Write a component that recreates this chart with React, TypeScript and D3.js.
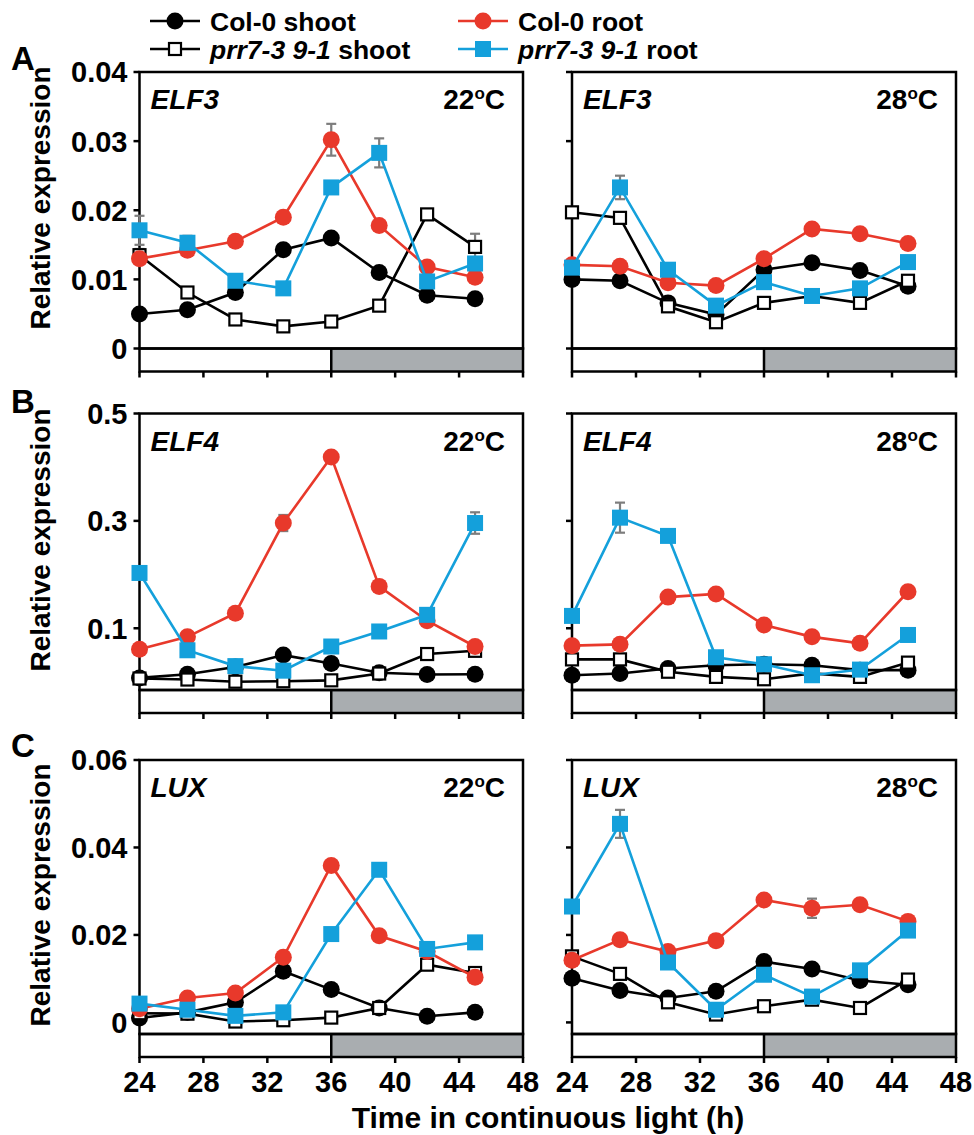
import React from "react"
import * as d3 from "d3"

// time points (h in continuous light)
const hours = [24, 27, 30, 33, 36, 39, 42, 45]
const xTicks = [24, 28, 32, 36, 40, 44, 48]

// ELF3
const elf3_22_colShoot = [0.0050, 0.0056, 0.0081, 0.0143, 0.0160, 0.0110, 0.0077, 0.0072]
const elf3_22_prrShoot = [0.0135, 0.0081, 0.0042, 0.0032, 0.0039, 0.0062, 0.0194, 0.0147]
const elf3_22_colRoot = [0.0130, 0.0142, 0.0155, 0.0190, 0.0302, 0.0178, 0.0118, 0.0103]
const elf3_22_prrRoot = [0.0171, 0.0153, 0.0098, 0.0087, 0.0233, 0.0283, 0.0097, 0.0123]
const elf3_22_err = [
    [0, 0, 0.0007, 0, 0, 0, 0, 0],
    [0.0009, 0, 0, 0, 0, 0, 0, 0.0019],
    [0, 0.0005, 0, 0, 0.0023, 0, 0, 0],
    [0.0021, 0.0010, 0, 0, 0, 0.0021, 0, 0],
]

const elf3_28_colShoot = [0.0100, 0.0098, 0.0066, 0.0049, 0.0114, 0.0124, 0.0113, 0.0090]
const elf3_28_prrShoot = [0.0197, 0.0189, 0.0061, 0.0038, 0.0066, 0.0076, 0.0066, 0.0098]
const elf3_28_colRoot = [0.0121, 0.0119, 0.0095, 0.0091, 0.0130, 0.0173, 0.0166, 0.0152]
const elf3_28_prrRoot = [0.0117, 0.0233, 0.0114, 0.0062, 0.0096, 0.0076, 0.0087, 0.0125]
const elf3_28_err = [
    [0.0008, 0, 0.0008, 0, 0, 0, 0, 0.0006],
    [0, 0, 0.0008, 0, 0, 0, 0, 0],
    [0.0006, 0, 0, 0, 0, 0, 0, 0.0005],
    [0, 0.0017, 0, 0, 0, 0, 0, 0.0009],
]

// ELF4
const elf4_22_colShoot = [0.0075, 0.0144, 0.028, 0.050, 0.0345, 0.017, 0.014, 0.0144]
const elf4_22_prrShoot = [0.0064, 0.0045, 0.0005, 0.0013, 0.003, 0.0157, 0.052, 0.058]
const elf4_22_colRoot = [0.061, 0.084, 0.128, 0.296, 0.419, 0.178, 0.114, 0.066]
const elf4_22_prrRoot = [0.203, 0.059, 0.0295, 0.021, 0.066, 0.094, 0.125, 0.296]
const elf4_22_err = [
    [0, 0, 0, 0, 0, 0, 0, 0],
    [0, 0, 0, 0, 0, 0, 0, 0],
    [0, 0, 0, 0.015, 0, 0, 0, 0],
    [0, 0, 0, 0, 0, 0, 0, 0.02],
]

const elf4_28_colShoot = [0.0125, 0.0157, 0.025, 0.031, 0.033, 0.031, 0.022, 0.022]
const elf4_28_prrShoot = [0.042, 0.042, 0.019, 0.0094, 0.005, 0.016, 0.0094, 0.036]
const elf4_28_colRoot = [0.0676, 0.070, 0.158, 0.164, 0.106, 0.084, 0.072, 0.168]
const elf4_28_prrRoot = [0.123, 0.306, 0.272, 0.046, 0.033, 0.0125, 0.023, 0.0875]
const elf4_28_err = [
    [0, 0, 0, 0, 0, 0, 0, 0],
    [0, 0, 0, 0, 0, 0, 0, 0],
    [0, 0, 0, 0, 0, 0, 0, 0],
    [0, 0.028, 0.006, 0, 0, 0, 0, 0],
]

// LUX
const lux_22_colShoot = [0.0010, 0.0023, 0.0046, 0.0117, 0.0075, 0.0033, 0.0014, 0.0023]
const lux_22_prrShoot = [0.0021, 0.0020, 0.0002, 0.0005, 0.0011, 0.0033, 0.0132, 0.0113]
const lux_22_colRoot = [0.0031, 0.0056, 0.0067, 0.0149, 0.0359, 0.0198, 0.0162, 0.0103]
const lux_22_prrRoot = [0.0043, 0.0029, 0.0015, 0.0023, 0.0202, 0.0349, 0.0168, 0.0183]
const lux_22_err = [
    [0, 0, 0, 0, 0, 0, 0, 0],
    [0, 0, 0, 0, 0, 0, 0, 0.0007],
    [0, 0, 0, 0, 0.0010, 0, 0, 0],
    [0, 0, 0, 0, 0, 0, 0, 0],
]

const lux_28_colShoot = [0.0101, 0.0073, 0.0056, 0.0071, 0.0139, 0.0122, 0.0096, 0.0086]
const lux_28_prrShoot = [0.0151, 0.0111, 0.0046, 0.0018, 0.0037, 0.0052, 0.0033, 0.0098]
const lux_28_colRoot = [0.0142, 0.0189, 0.0162, 0.0187, 0.0280, 0.0261, 0.0269, 0.0231]
const lux_28_prrRoot = [0.0265, 0.0454, 0.0137, 0.0029, 0.0109, 0.0059, 0.0119, 0.0210]
const lux_28_err = [
    [0, 0, 0, 0, 0, 0, 0, 0],
    [0, 0, 0, 0, 0, 0, 0, 0],
    [0, 0.0006, 0, 0, 0.0008, 0.0022, 0, 0],
    [0, 0.0032, 0, 0, 0, 0, 0, 0.0010],
]

// y axes
const elf3Ticks = [0, 0.01, 0.02, 0.03, 0.04]
const elf3TickLabels = ["0", "0.01", "0.02", "0.03", "0.04"]
const elf4Ticks = [0.1, 0.3, 0.5]
const elf4TickLabels = ["0.1", "0.3", "0.5"]
const luxTicks = [0, 0.02, 0.04, 0.06]
const luxTickLabels = ["0", "0.02", "0.04", "0.06"]

const FONT = "'Liberation Sans', Arial, Helvetica, sans-serif"
const RED = "#e8392b"
const BLUE = "#14a0db"
const GREY_BAR = "#a9adb0"
const ERR = "#7d7d7d"

const seriesStyle = [
    { color: "#000", marker: "circle", fill: "#000" },
    { color: "#000", marker: "open", fill: "#fff" },
    { color: RED, marker: "circle", fill: RED },
    { color: BLUE, marker: "square", fill: BLUE },
]

const cols = [
    { x0: 139.5, x1: 523 },
    { x0: 572, x1: 956 },
]
const rows = [
    { top: 72, bottom: 348.5, letter: "A", letterY: 70, labelY: 198 },
    { top: 413.5, bottom: 690, letter: "B", letterY: 413, labelY: 540 },
    { top: 760, bottom: 1034, letter: "C", letterY: 757, labelY: 895 },
]

const panels = [
    { row: 0, col: 0, gene: "ELF3", temp: "22", domain: [0, 0.04], ticks: elf3Ticks, labels: elf3TickLabels,
      values: [elf3_22_colShoot, elf3_22_prrShoot, elf3_22_colRoot, elf3_22_prrRoot], errs: elf3_22_err },
    { row: 0, col: 1, gene: "ELF3", temp: "28", domain: [0, 0.04], ticks: elf3Ticks, labels: elf3TickLabels,
      values: [elf3_28_colShoot, elf3_28_prrShoot, elf3_28_colRoot, elf3_28_prrRoot], errs: elf3_28_err },
    { row: 1, col: 0, gene: "ELF4", temp: "22", domain: [-0.015, 0.5], ticks: elf4Ticks, labels: elf4TickLabels,
      values: [elf4_22_colShoot, elf4_22_prrShoot, elf4_22_colRoot, elf4_22_prrRoot], errs: elf4_22_err },
    { row: 1, col: 1, gene: "ELF4", temp: "28", domain: [-0.015, 0.5], ticks: elf4Ticks, labels: elf4TickLabels,
      values: [elf4_28_colShoot, elf4_28_prrShoot, elf4_28_colRoot, elf4_28_prrRoot], errs: elf4_28_err },
    { row: 2, col: 0, gene: "LUX", temp: "22", domain: [-0.00265, 0.06], ticks: luxTicks, labels: luxTickLabels,
      values: [lux_22_colShoot, lux_22_prrShoot, lux_22_colRoot, lux_22_prrRoot], errs: lux_22_err },
    { row: 2, col: 1, gene: "LUX", temp: "28", domain: [-0.00265, 0.06], ticks: luxTicks, labels: luxTickLabels,
      values: [lux_28_colShoot, lux_28_prrShoot, lux_28_colRoot, lux_28_prrRoot], errs: lux_28_err },
]

const BAR_H = 23

function Marker({ type, x, y, color, fill }) {
    if (type === "circle") return <circle cx={x} cy={y} r={8.5} fill={fill} />
    if (type === "square") return <rect x={x - 8} y={y - 8} width={16} height={16} fill={fill} />
    return <rect x={x - 6} y={y - 6} width={12} height={12} fill="#fff" stroke={color} strokeWidth={2.2} />
}

function Panel({ p }) {
    const { x0, x1 } = cols[p.col]
    const { top, bottom } = rows[p.row]
    const x = d3.scaleLinear().domain([24, 48]).range([x0, x1])
    const y = d3.scaleLinear().domain(p.domain).range([bottom, top])
    const line = d3.line().x((d, i) => x(hours[i])).y(d => y(d))
    const barBottom = bottom + BAR_H
    const showY = p.col === 0
    const showX = p.row === 2

    return (
        <g>
            {/* light / dark bar */}
            <rect x={x0} y={bottom} width={x(36) - x0} height={BAR_H} fill="#fff" />
            <rect x={x(36)} y={bottom} width={x1 - x(36)} height={BAR_H} fill={GREY_BAR} />
            <rect x={x0} y={bottom} width={x1 - x0} height={BAR_H} fill="none" stroke="#000" strokeWidth={2.5} />
            <line x1={x(36)} x2={x(36)} y1={bottom} y2={barBottom} stroke="#000" strokeWidth={2.5} />

            {/* frame */}
            <rect x={x0} y={top} width={x1 - x0} height={bottom - top} fill="none" stroke="#000" strokeWidth={2.5} />

            {/* y ticks */}
            {p.ticks.map((t, i) => (
                <g key={"yt" + i}>
                    <line x1={x0 - 6} x2={x0} y1={y(t)} y2={y(t)} stroke="#000" strokeWidth={2.5} />
                    {showY && (
                        <text x={x0 - 12} y={y(t)} dy="0.36em" textAnchor="end" fontSize={29}>
                            {p.labels[i]}
                        </text>
                    )}
                </g>
            ))}

            {/* x ticks */}
            {xTicks.map(t => (
                <g key={"xt" + t}>
                    <line x1={x(t)} x2={x(t)} y1={barBottom} y2={barBottom + 6} stroke="#000" strokeWidth={2.5} />
                    {showX && (
                        <text x={x(t)} y={barBottom + 35} textAnchor="middle" fontSize={29}>
                            {t}
                        </text>
                    )}
                </g>
            ))}

            {/* titles */}
            <text x={x0 + 11} y={top + 37} fontSize={28} fontStyle="italic">{p.gene}</text>
            <text x={x1 - 18} y={top + 37} fontSize={28} textAnchor="end">
                {p.temp}
                <tspan fontSize={17} dy={-10}>o</tspan>
                <tspan dy={10}>C</tspan>
            </text>

            {/* series */}
            {p.values.map((vals, s) => {
                const st = seriesStyle[s]
                return (
                    <g key={"s" + s}>
                        {vals.map((v, i) => {
                            const e = p.errs[s][i]
                            if (!e) return null
                            const cx = x(hours[i])
                            return (
                                <g key={"e" + i} stroke={ERR} strokeWidth={2.2}>
                                    <line x1={cx} x2={cx} y1={y(v - e)} y2={y(v + e)} />
                                    <line x1={cx - 5} x2={cx + 5} y1={y(v + e)} y2={y(v + e)} />
                                    <line x1={cx - 5} x2={cx + 5} y1={y(v - e)} y2={y(v - e)} />
                                </g>
                            )
                        })}
                        <path d={line(vals)} fill="none" stroke={st.color} strokeWidth={2.6} />
                        {vals.map((v, i) => (
                            <Marker key={"m" + i} type={st.marker} x={x(hours[i])} y={y(v)} color={st.color} fill={st.fill} />
                        ))}
                    </g>
                )
            })}
        </g>
    )
}

function LegendItem({ s, x, y, children }) {
    const st = seriesStyle[s]
    return (
        <g>
            <line x1={x} x2={x + 50} y1={y} y2={y} stroke={st.color} strokeWidth={2.6} />
            <Marker type={st.marker} x={x + 25} y={y} color={st.color} fill={st.fill} />
            <text x={x + 60} y={y} dy="0.36em" fontSize={26.5}>{children}</text>
        </g>
    )
}

export default function App() {
    return (
        <svg
            width={974}
            height={1135}
            style={{ position: "absolute", left: 0, top: 0, background: "#fff" }}
            fontFamily={FONT}
            fontWeight="bold"
        >
            <LegendItem s={0} x={150} y={21}>Col-0 shoot</LegendItem>
            <LegendItem s={1} x={150} y={49}>
                <tspan fontStyle="italic">prr7-3 9-1</tspan> shoot
            </LegendItem>
            <LegendItem s={2} x={458} y={21}>Col-0 root</LegendItem>
            <LegendItem s={3} x={458} y={49}>
                <tspan fontStyle="italic">prr7-3 9-1</tspan> root
            </LegendItem>

            {rows.map(r => (
                <g key={r.letter}>
                    <text x={11} y={r.letterY} fontSize={33}>{r.letter}</text>
                    <text transform={`translate(50,${r.labelY}) rotate(-90)`} textAnchor="middle" fontSize={28}>
                        Relative expression
                    </text>
                </g>
            ))}

            {panels.map((p, i) => <Panel key={i} p={p} />)}

            <text x={548} y={1128} textAnchor="middle" fontSize={30}>Time in continuous light (h)</text>
        </svg>
    )
}
